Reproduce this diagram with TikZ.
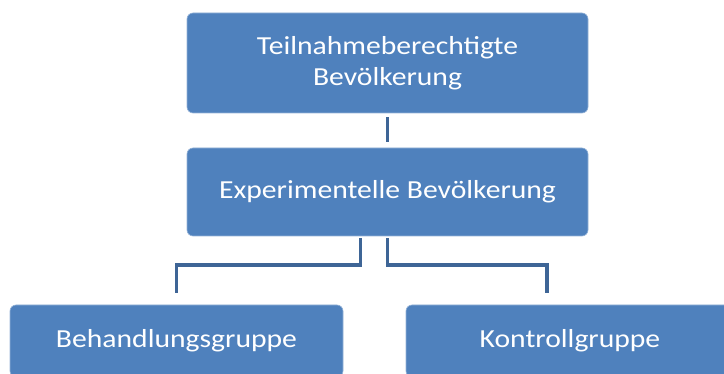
\documentclass[tikz,border=0pt]{standalone}
\usepackage{fontspec}
\setmainfont{Carlito}[FakeStretch=1.14]
\definecolor{boxblue}{HTML}{4F81BD}
\definecolor{linkblue}{HTML}{3E6596}
\begin{document}
\begin{tikzpicture}[x=1pt, y=-1pt,
    box/.style={rectangle, rounded corners=6pt, fill=boxblue, draw=boxblue!60!white, line width=0.6pt,
        text=white, font=\fontsize{26}{31}\selectfont, align=center, inner sep=0pt},
    link/.style={linkblue, line width=3.6pt}]
    \useasboundingbox (0,0) rectangle (724,374);

    % Boxes
    \node[box, minimum width=401pt, minimum height=100pt] (teil) at (387.5, 63) {Teilnahmeberechtigte\\Bevölkerung};
    \node[box, minimum width=401pt, minimum height=88pt] (exp) at (387.5, 192) {Experimentelle Bevölkerung};
    \node[box, minimum width=333pt, minimum height=72pt] (beh) at (176.5, 341) {Behandlungsgruppe};
    \node[box, minimum width=328pt, minimum height=72pt] (kon) at (570, 341) {Kontrollgruppe};

    % Connectors
    \draw[link] ([yshift=-4pt]teil.south) -- ([yshift=6pt]exp.north);
    \draw[link] ([xshift=-27pt, yshift=-2pt]exp.south) -- ++(0,27) -| ([yshift=12pt]beh.north);
    \draw[link] ([yshift=-2pt]exp.south) -- ++(0,27) -| ([xshift=-23pt, yshift=12pt]kon.north);
\end{tikzpicture}
\end{document}
